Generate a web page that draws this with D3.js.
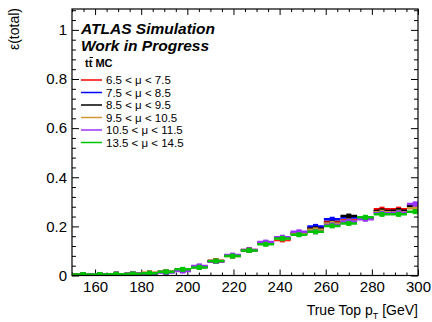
<!DOCTYPE html>
<html lang="en">
<head>
  <meta charset="UTF-8">
  <title>Efficiency vs true top pT</title>
  <script src="https://d3js.org/d3.v7.min.js"></script>
  <style>
    body { background: #fff; margin: 0; }
    svg { display: block; }
    text { font-family: "Liberation Sans", Arial, sans-serif; fill: #000; }
    .axis path { stroke: #000; stroke-width: 1; }
    .axis line { stroke: #000; stroke-width: 1; }
    .axis text { font-size: 15px; }
  </style>
</head>
<body>
  <svg width="432" height="322"></svg>

  <script>
    // bin lower edges (GeV), width 7.2
    const binLow = [144, 151.2, 158.4, 165.6, 172.8, 180, 187.2, 194.4, 201.6, 208.8, 216,
                    223.2, 230.4, 237.6, 244.8, 252, 259.2, 266.4, 273.6, 280.8, 288, 295.2];
    const binWidth = 7.2;

    const labels = ["6.5 < \u03bc < 7.5", "7.5 < \u03bc < 8.5", "8.5 < \u03bc < 9.5",
                    "9.5 < \u03bc < 10.5", "10.5 < \u03bc < 11.5", "13.5 < \u03bc < 14.5"];
    const colors = ["#ff0000", "#0000ff", "#000000", "#cc9a33", "#9933ff", "#00c400"];

    const effRed    = [0.003,0.003,0.004,0.005,0.006,0.010,0.015,0.021,0.037,0.060,0.081,0.104,0.133,0.145,0.175,0.192,0.219,0.225,0.232,0.270,0.270,0.282];
    const effBlue   = [0.002,0.003,0.004,0.005,0.007,0.009,0.014,0.020,0.035,0.057,0.080,0.103,0.130,0.150,0.172,0.200,0.229,0.236,0.232,0.260,0.262,0.287];
    const effBlack  = [0.003,0.003,0.004,0.005,0.006,0.009,0.014,0.021,0.036,0.058,0.080,0.103,0.132,0.151,0.170,0.190,0.214,0.242,0.233,0.263,0.264,0.283];
    const effOrange = [0.003,0.004,0.004,0.005,0.007,0.011,0.016,0.022,0.035,0.058,0.079,0.103,0.131,0.149,0.170,0.186,0.212,0.222,0.232,0.258,0.258,0.274];
    const effViolet = [0.002,0.003,0.004,0.005,0.006,0.009,0.013,0.018,0.039,0.057,0.083,0.104,0.136,0.156,0.178,0.178,0.206,0.220,0.229,0.253,0.255,0.291];
    const effGreen  = [0.004,0.004,0.004,0.005,0.006,0.009,0.015,0.025,0.033,0.059,0.079,0.102,0.127,0.151,0.166,0.178,0.202,0.212,0.237,0.249,0.249,0.260];
    // rough stat. uncertainty per bin
    const errs      = [0.001,0.001,0.001,0.001,0.001,0.002,0.002,0.002,0.003,0.003,0.004,0.004,0.005,0.005,0.006,0.006,0.007,0.007,0.008,0.008,0.009,0.010];

    const series = [effRed, effBlue, effBlack, effOrange, effViolet, effGreen];

    const xTicks = [160, 180, 200, 220, 240, 260, 280, 300];
    const yTicks = [0, 0.2, 0.4, 0.6, 0.8, 1];

    const svg = d3.select("svg");
    const padL = 72, padR = 418, padT = 9, padB = 275.5;

    const x = d3.scaleLinear().domain([150, 300]).range([padL, padR]);
    const y = d3.scaleLinear().domain([0, 1.085]).range([padB, padT]);

    // clip to frame
    svg.append("clipPath").attr("id", "frame")
      .append("rect").attr("x", padL).attr("y", padT)
      .attr("width", padR - padL).attr("height", padB - padT);

    // minor ticks
    const xMinor = d3.range(150, 301, 5).filter(v => v % 20 !== 0);
    const yMinor = d3.range(0, 1.081, 0.04).filter(v => Math.abs(v / 0.2 - Math.round(v / 0.2)) > 1e-6);

    // bottom
    svg.append("g").attr("class", "axis")
      .attr("transform", `translate(0,${padB})`)
      .call(d3.axisBottom(x).tickValues(xTicks).tickSize(-6).tickPadding(6).tickFormat(d3.format("d")))
      .call(g => g.select(".domain").remove());
    svg.append("g").attr("class", "axis")
      .attr("transform", `translate(0,${padB})`)
      .call(d3.axisBottom(x).tickValues(xMinor).tickSize(-3).tickFormat(""))
      .call(g => g.select(".domain").remove());
    // top
    svg.append("g").attr("class", "axis")
      .attr("transform", `translate(0,${padT})`)
      .call(d3.axisTop(x).tickValues(xTicks).tickSize(-6).tickFormat(""))
      .call(g => g.select(".domain").remove());
    svg.append("g").attr("class", "axis")
      .attr("transform", `translate(0,${padT})`)
      .call(d3.axisTop(x).tickValues(xMinor).tickSize(-3).tickFormat(""))
      .call(g => g.select(".domain").remove());
    // left
    svg.append("g").attr("class", "axis")
      .attr("transform", `translate(${padL},0)`)
      .call(d3.axisLeft(y).tickValues(yTicks).tickSize(-7).tickPadding(5).tickFormat(d => d === 0 ? "0" : d === 1 ? "1" : d3.format(".1f")(d)))
      .call(g => g.select(".domain").remove());
    svg.append("g").attr("class", "axis")
      .attr("transform", `translate(${padL},0)`)
      .call(d3.axisLeft(y).tickValues(yMinor).tickSize(-4).tickFormat(""))
      .call(g => g.select(".domain").remove());
    // right
    svg.append("g").attr("class", "axis")
      .attr("transform", `translate(${padR},0)`)
      .call(d3.axisRight(y).tickValues(yTicks).tickSize(-7).tickFormat(""))
      .call(g => g.select(".domain").remove());
    svg.append("g").attr("class", "axis")
      .attr("transform", `translate(${padR},0)`)
      .call(d3.axisRight(y).tickValues(yMinor).tickSize(-4).tickFormat(""))
      .call(g => g.select(".domain").remove());

    // histograms with error bars
    const plot = svg.append("g").attr("clip-path", "url(#frame)");
    series.forEach((vals, s) => {
      const g = plot.append("g").attr("stroke", colors[s]).attr("fill", colors[s]);
      vals.forEach((v, i) => {
        const x0 = x(binLow[i]), x1 = x(binLow[i] + binWidth), xc = x(binLow[i] + binWidth / 2);
        g.append("line")
          .attr("x1", x0).attr("x2", x1)
          .attr("y1", y(v)).attr("y2", y(v))
          .attr("stroke-width", 2.5);
        g.append("line")
          .attr("x1", xc).attr("x2", xc)
          .attr("y1", y(v - errs[i])).attr("y2", y(v + errs[i]))
          .attr("stroke-width", 2.5);
        g.append("rect")
          .attr("x", xc - 2.5).attr("y", y(v) - 2.5)
          .attr("width", 5).attr("height", 5)
          .attr("stroke", "none");
      });
    });

    // frame
    svg.append("rect")
      .attr("x", padL).attr("y", padT)
      .attr("width", padR - padL).attr("height", padB - padT)
      .attr("fill", "none").attr("stroke", "#000").attr("stroke-width", 1.2);

    // axis titles
    svg.append("text")
      .attr("x", padR).attr("y", 315)
      .attr("text-anchor", "end")
      .style("font-size", "14px")
      .html('True Top p<tspan dy="4" font-size="9px">T</tspan><tspan dy="-4"> [GeV]</tspan>');

    svg.append("text")
      .attr("transform", "translate(19,8) rotate(-90)")
      .attr("text-anchor", "end")
      .style("font-size", "14px")
      .text("\u03b5(total)");

    // ATLAS label
    svg.append("text")
      .attr("x", 81).attr("y", 34)
      .style("font-size", "15.5px").style("font-weight", "bold").style("font-style", "italic")
      .text("ATLAS Simulation");
    svg.append("text")
      .attr("x", 81).attr("y", 51)
      .style("font-size", "15.5px").style("font-weight", "bold").style("font-style", "italic")
      .text("Work in Progress");
    svg.append("text")
      .attr("x", 85).attr("y", 67)
      .style("font-size", "11px").style("font-weight", "bold")
      .text("tt MC");
    svg.append("line")
      .attr("x1", 89.5).attr("x2", 93).attr("y1", 57.5).attr("y2", 57.5)
      .attr("stroke", "#000").attr("stroke-width", 1);

    // legend
    const legend = svg.append("g");
    labels.forEach((lab, i) => {
      const ly = 80 + i * 12.5;
      legend.append("line")
        .attr("x1", 81).attr("x2", 102).attr("y1", ly).attr("y2", ly)
        .attr("stroke", colors[i]).attr("stroke-width", 1.5);
      legend.append("text")
        .attr("x", 106).attr("y", ly + 4)
        .style("font-size", "11.5px")
        .text(lab);
    });
  </script>
</body>
</html>
